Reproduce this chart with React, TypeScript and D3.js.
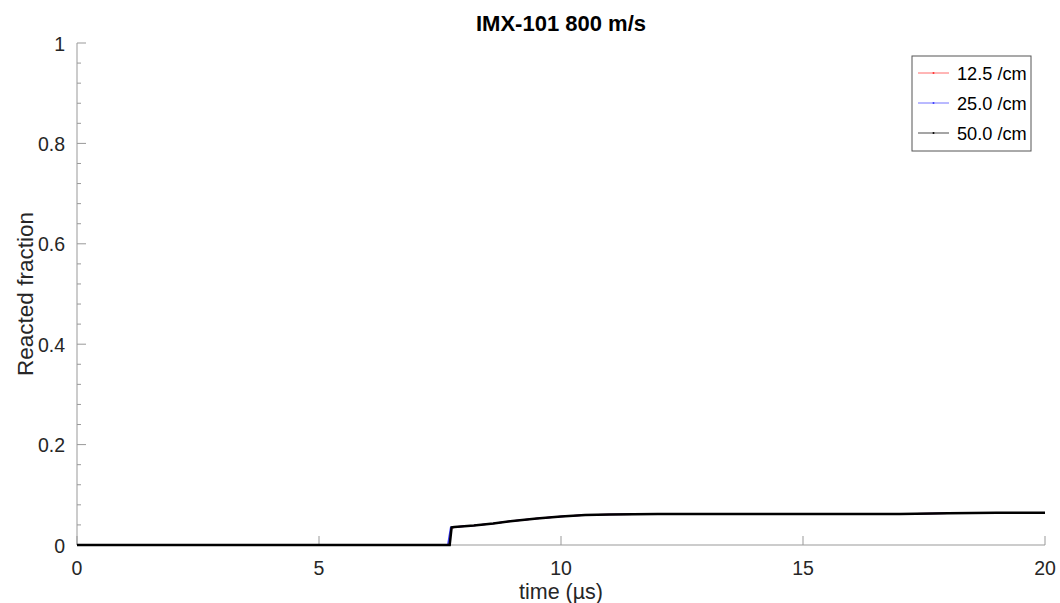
import React from 'react';
import * as d3 from 'd3';

const W = 1060;
const H = 603;

const title = 'IMX-101 800 m/s';
const xTicks = [0, 5, 10, 15, 20];
const yTicks = [0, 0.2, 0.4, 0.6, 0.8, 1];
const seriesNames = ['12.5 /cm', '25.0 /cm', '50.0 /cm'];
const seriesColors = ['#ff3030', '#3a3aff', '#000000'];

// time in µs
const time12 = [0, 7.68, 7.74, 7.8, 8.2, 8.6, 9.0, 9.5, 10.0, 10.5, 11.0, 12, 13, 14, 15, 16, 17, 18, 19, 20];
const frac12 = [0, 0, 0.034, 0.036, 0.039, 0.043, 0.048, 0.053, 0.057, 0.060, 0.061, 0.062, 0.062, 0.062, 0.062, 0.062, 0.062, 0.063, 0.064, 0.064];
const time25 = [0, 7.66, 7.72, 7.8, 8.2, 8.6, 9.0, 9.5, 10.0, 10.5, 11.0, 12, 13, 14, 15, 16, 17, 18, 19, 20];
const frac25 = [0, 0, 0.035, 0.036, 0.039, 0.043, 0.048, 0.053, 0.057, 0.060, 0.061, 0.062, 0.062, 0.062, 0.062, 0.062, 0.062, 0.063, 0.064, 0.064];
const time50 = [0, 7.7, 7.74, 7.8, 8.2, 8.6, 9.0, 9.5, 10.0, 10.5, 11.0, 12, 13, 14, 15, 16, 17, 18, 19, 20];
const frac50 = [0, 0, 0.035, 0.036, 0.039, 0.043, 0.048, 0.053, 0.057, 0.060, 0.061, 0.062, 0.062, 0.062, 0.062, 0.062, 0.062, 0.063, 0.064, 0.064];

const series = [
  { t: time12, v: frac12, w: 1.5 },
  { t: time25, v: frac25, w: 1.5 },
  { t: time50, v: frac50, w: 2.5 },
];

const margin = { left: 77, right: 15, top: 43, bottom: 58 };

export default function App() {
  const x = d3.scaleLinear().domain([0, 20]).range([margin.left, W - margin.right]);
  const y = d3.scaleLinear().domain([0, 1]).range([H - margin.bottom, margin.top]);
  const line = d3.line<number>().x((d) => d);

  const minorY = d3.range(0, 1.0001, 0.04).filter((v) => !yTicks.some((t) => Math.abs(t - v) < 1e-6));
  const font = 'Liberation Sans, Arial, sans-serif';
  const axisColor = '#999';

  return (
    <svg width={W} height={H} style={{ position: 'absolute', left: 0, top: 0 }} fontFamily={font}>
      <rect width={W} height={H} fill="#fff" />
      <text x={(x(0) + x(20)) / 2} y={31} textAnchor="middle" fontSize={22} fontWeight="bold" fill="#000">
        {title}
      </text>

      {/* axes */}
      <line x1={x(0)} x2={x(0)} y1={y(0)} y2={y(1)} stroke={axisColor} />
      <line x1={x(0)} x2={x(20)} y1={y(0)} y2={y(0)} stroke={axisColor} />
      {yTicks.map((t) => (
        <g key={'y' + t}>
          <line x1={x(0)} x2={x(0) + 9} y1={y(t)} y2={y(t)} stroke={axisColor} />
          <text x={x(0) - 12} y={y(t) + 7.5} textAnchor="end" fontSize={19.5} fill="#262626">
            {t}
          </text>
        </g>
      ))}
      {minorY.map((t) => (
        <line key={'m' + t} x1={x(0)} x2={x(0) + 4} y1={y(t)} y2={y(t)} stroke={axisColor} />
      ))}
      {xTicks.map((t) => (
        <g key={'x' + t}>
          <line x1={x(t)} x2={x(t)} y1={y(0)} y2={y(0) - 9} stroke={axisColor} />
          <text x={x(t)} y={575} textAnchor="middle" fontSize={19.5} fill="#262626">
            {t}
          </text>
        </g>
      ))}
      <text x={(x(0) + x(20)) / 2} y={599} textAnchor="middle" fontSize={21.5} fill="#262626">
        time (µs)
      </text>
      <text
        transform={`translate(33, ${(y(0) + y(1)) / 2}) rotate(-90)`}
        textAnchor="middle"
        fontSize={22.5}
        fill="#262626"
      >
        Reacted fraction
      </text>

      {/* data */}
      {series.map((s, i) => (
        <path
          key={i}
          d={line.y((_, j) => y(s.v[j]))(s.t.map((t) => x(t))) || ''}
          fill="none"
          stroke={seriesColors[i]}
          strokeWidth={s.w}
        />
      ))}

      {/* legend */}
      <g transform="translate(912, 56)">
        <rect width={119} height={95} fill="#fff" stroke="#555" strokeWidth={1} />
        {seriesNames.map((n, i) => (
          <g key={n} transform={`translate(0, ${17 + i * 30})`}>
            <line x1={6} x2={37} y1={0} y2={0} stroke={seriesColors[i]} strokeWidth={1} opacity={0.7} />
            <circle cx={21.5} cy={0} r={1} fill={seriesColors[i]} />
            <text x={45} y={7} fontSize={18.2} fill="#000">
              {n}
            </text>
          </g>
        ))}
      </g>
    </svg>
  );
}
